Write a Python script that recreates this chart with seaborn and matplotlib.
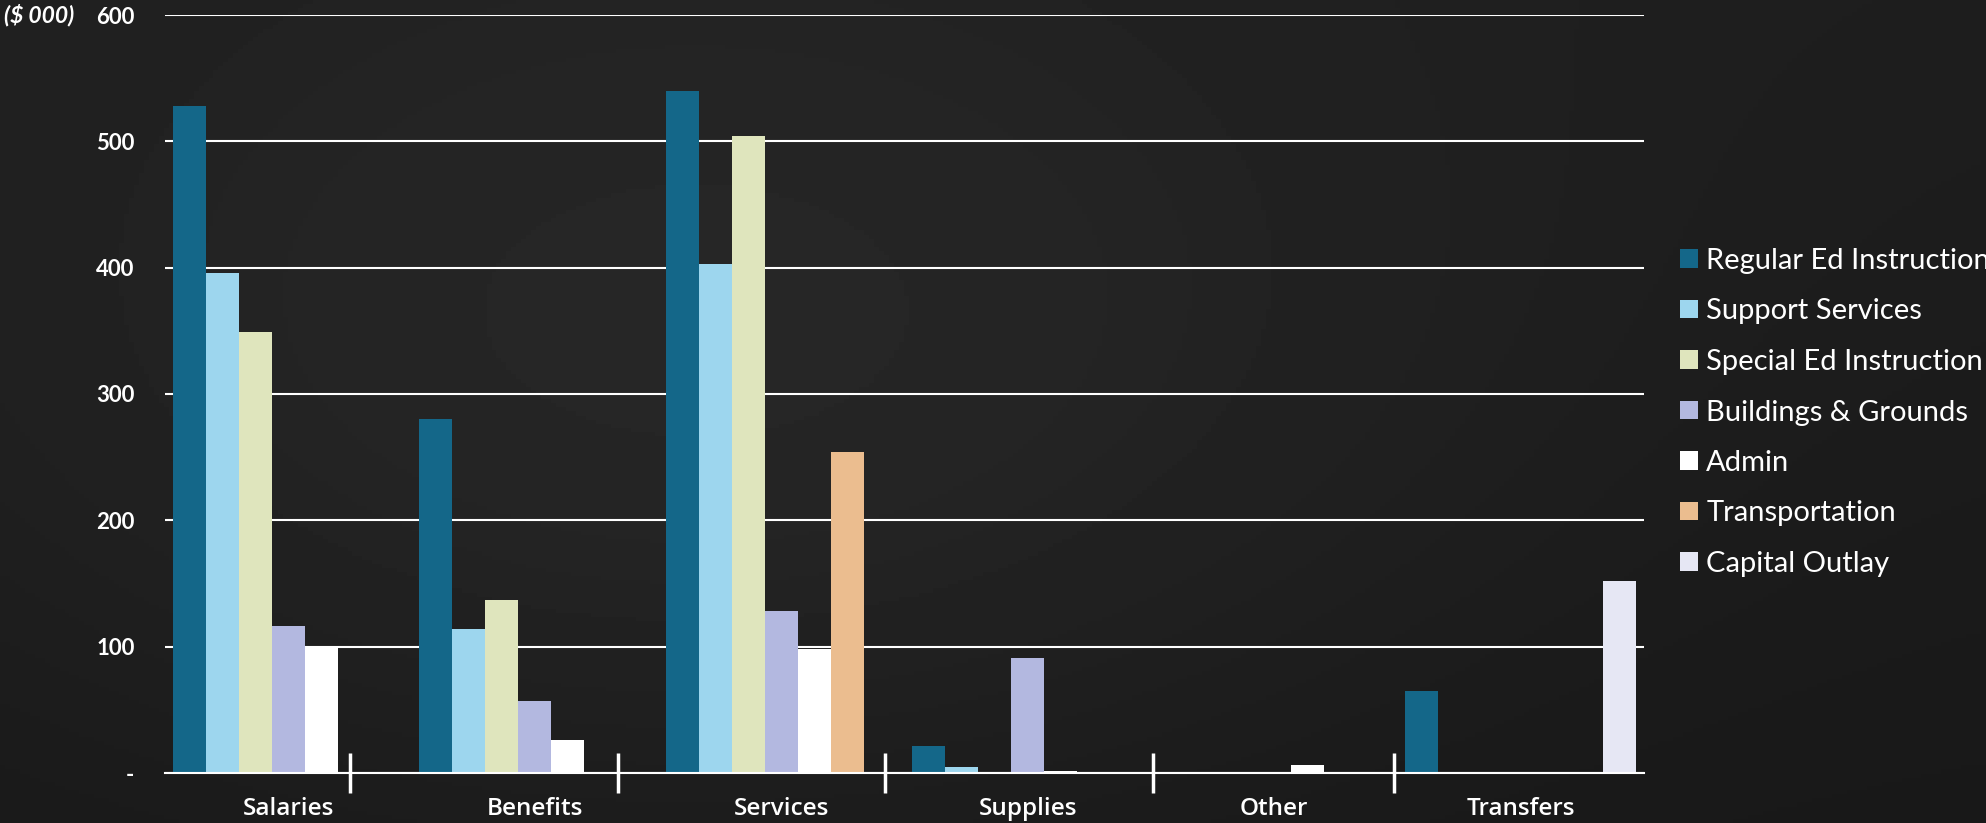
import numpy as np
import pandas as pd
import matplotlib
matplotlib.use("Agg")
import matplotlib.pyplot as plt
import seaborn as sns
from matplotlib.ticker import FixedLocator

categories = ["Salaries", "Benefits", "Services", "Supplies", "Other", "Transfers"]
series = ["Regular Ed Instruction", "Support Services", "Special Ed Instruction",
          "Buildings & Grounds", "Admin", "Transportation", "Capital Outlay"]
regular_ed = [528, 280, 540, 21, 0.5, 65]
support = [396, 114, 403, 5, 0, 0]
special_ed = [349, 137, 504, 0, 0, 0]
buildings = [116, 57, 128, 91, 1, 0]
admin = [100, 26, 98, 1.5, 6.5, 0]
transport = [0, 0, 254, 0, 0, 0]
capital = [0, 0, 0, 0, 1, 152]
colors = ["#146789", "#9dd6ee", "#dfe5bd", "#b3b8e0", "#ffffff", "#ebbd8f", "#e6e7f4"]
yticks = [0, 100, 200, 300, 400, 500, 600]
ytick_labels = ["-", "100", "200", "300", "400", "500", "600"]
separators = [0.252, 1.336, 2.42, 3.51, 4.485]

values = [regular_ed, support, special_ed, buildings, admin, transport, capital]
rows = []
for s, vals in zip(series, values):
    for c, v in zip(categories, vals):
        rows.append({"category": c, "series": s, "value": v})
df = pd.DataFrame(rows)

sns.set_style("dark")
bg = "#1b1b1b"
fig = plt.figure(figsize=(19.86, 8.23), dpi=100, facecolor=bg)

# subtle chalkboard shading
bgax = fig.add_axes([0, 0, 1, 1], zorder=-10)
yy, xx = np.mgrid[0:1:200j, 0:1:400j]
shade = 0.115 + 0.045 * np.exp(-((xx - 0.35) ** 2 / 0.15 + (yy - 0.45) ** 2 / 0.3)) - 0.02 * yy
bgax.imshow(shade, cmap="gray", vmin=0, vmax=1, aspect="auto", extent=[0, 1, 0, 1])
bgax.set_axis_off()

ax = fig.add_axes([165 / 1986, 1 - 773 / 823, (1644 - 165) / 1986, (773 - 15) / 823])
ax.set_facecolor("none")
sns.barplot(data=df, x="category", y="value", hue="series", order=categories,
            hue_order=series, palette=colors, width=0.9375, gap=0, saturation=1,
            ax=ax, linewidth=0, zorder=3)
ax.set_xlim(-0.5, 5.5)
ax.set_ylim(0, 600)
ax.set_yticks(yticks)
ax.set_yticklabels(ytick_labels, fontfamily="Lato", fontweight="bold", fontsize=16, color="white")
ax.set_xticks(range(len(categories)))
ax.set_xticklabels(categories, fontfamily="Open Sans", fontweight="semibold", fontsize=17.5, color="white")
ax.tick_params(axis="x", which="major", length=0, pad=17, bottom=True)
ax.tick_params(axis="y", which="major", length=0, pad=22)
ax.xaxis.set_minor_locator(FixedLocator(separators))
ax.tick_params(axis="x", which="minor", direction="inout", length=29, width=2.5,
               color="white", bottom=True)
ax.set_xlabel("")
ax.set_ylabel("")
for sp in ["top", "right", "left"]:
    ax.spines[sp].set_visible(False)
ax.spines["bottom"].set_color("white")
ax.spines["bottom"].set_linewidth(1.5)
ax.spines["bottom"].set_zorder(4)
ax.grid(axis="y", color="white", linewidth=1.5, zorder=1)
ax.grid(axis="x", visible=False)
ax.set_axisbelow(True)

fig.text(4 / 1986, 1 - 15 / 823, "($ 000)", ha="left", va="center", fontfamily="Lato",
         fontweight="bold", fontstyle="italic", fontsize=16.5, color="white")

handles, labels = ax.get_legend_handles_labels()
if ax.legend_:
    ax.legend_.remove()
leg = fig.legend(handles, labels, loc="upper left", bbox_to_anchor=(1680 / 1986, 1 - 248 / 823),
                 frameon=False, prop={"family": "Lato", "size": 21}, labelcolor="white",
                 handlelength=0.6, handleheight=0.6, handletextpad=0.3, labelspacing=0.84,
                 borderaxespad=0, borderpad=0)

fig.savefig("out.png", dpi=100, facecolor=bg)
